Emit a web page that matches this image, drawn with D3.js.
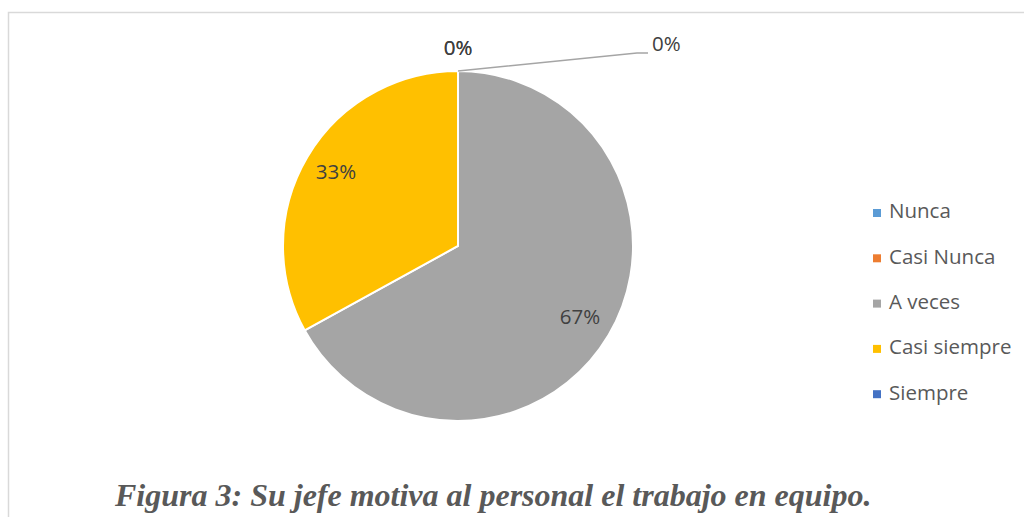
<!DOCTYPE html>
<html lang="es">
<head>
<meta charset="UTF-8">
<title>Figura 3</title>
<script src="https://d3js.org/d3.v7.min.js"></script>
<style>
    body{ margin:0; background:#fff; }
    #canvas{ display:block; }
    .lbl{ font-family:"Open Sans", sans-serif; font-size:20.5px; fill:#404040; }
    .legendText{ font-family:"Open Sans", sans-serif; font-size:20.5px; fill:#595959; }
    #caption{ font-family:"Liberation Serif", "Times New Roman", serif; font-weight:bold; font-style:italic; font-size:32px; fill:#595959; }
</style>
</head>
<body>
<svg id="canvas" width="1024" height="517"></svg>
<script>
    // data
    let categories = ["Nunca", "Casi Nunca", "A veces", "Casi siempre", "Siempre"];
    let values = [0, 0, 67, 33, 0];
    let colors = ["#5b9bd5", "#ed7d31", "#a5a5a5", "#ffc000", "#4472c4"];
    let captionText = "Figura 3: Su jefe motiva al personal el trabajo en equipo.";

    let svg = d3.select('#canvas');

    // chart frame
    svg.append('path')
        .attr('d', 'M8.5,517 L8.5,12.5 L1024,12.5')
        .attr('fill', 'none')
        .attr('stroke', '#d9d9d9')
        .attr('stroke-width', 1.5);

    let cx = 458, cy = 246, R = 175;
    let pie = d3.pie().sort(null).value(d => d);
    let arcs = pie(values);
    let arc = d3.arc().innerRadius(0).outerRadius(R);
    let labelArc = d3.arc().innerRadius(R * 0.81).outerRadius(R * 0.81);
    let outerArc = d3.arc().innerRadius(R + 21).outerRadius(R + 21);

    let g = svg.append('g').attr('transform', `translate(${cx},${cy})`);
    g.selectAll('path.slice')
        .data(arcs)
        .enter()
        .append('path')
        .attr('class', 'slice')
        .attr('d', arc)
        .attr('fill', (d, i) => colors[i])
        .attr('stroke', '#fff')
        .attr('stroke-width', 2);

    // labels
    arcs.forEach(function (d, i) {
        let txt = Math.round(d.value) + '%';
        if (d.value > 0) {
            let p = labelArc.centroid(d);
            g.append('text').attr('class', 'lbl')
                .attr('x', p[0]).attr('y', p[1])
                .attr('text-anchor', 'middle').attr('dominant-baseline', 'middle')
                .text(txt);
        } else if (i < arcs.length - 1) {
            let p = outerArc.centroid(d);
            g.append('text').attr('class', 'lbl')
                .attr('x', p[0]).attr('y', p[1])
                .attr('text-anchor', 'middle').attr('dominant-baseline', 'middle')
                .text(txt);
        } else {
            // last zero slice pulled out with a leader line
            let a = d.startAngle;
            let start = [Math.sin(a) * R, -Math.cos(a) * R];
            let bend = [start[0] + 179, start[1] - 18];
            let end = [bend[0] + 11, bend[1]];
            g.append('polyline')
                .attr('points', [start, bend, end].map(p => p.join(',')).join(' '))
                .attr('fill', 'none')
                .attr('stroke', '#a5a5a5')
                .attr('stroke-width', 1.3);
            g.append('text').attr('class', 'lbl')
                .attr('x', end[0] + 4).attr('y', end[1] - 7)
                .attr('dominant-baseline', 'middle')
                .text(txt);
        }
    });

    // legend
    let legend = svg.append('g').attr('transform', 'translate(873,213)');
    let rows = legend.selectAll('g')
        .data(categories)
        .enter()
        .append('g')
        .attr('transform', (d, i) => `translate(0,${i * 45.3})`);
    rows.append('rect')
        .attr('x', 0).attr('y', -4)
        .attr('width', 8).attr('height', 8)
        .attr('fill', (d, i) => colors[i]);
    rows.append('text')
        .attr('class', 'legendText')
        .attr('x', 16).attr('y', 0)
        .attr('dominant-baseline', 'middle')
        .text(d => d);

    // caption
    svg.append('text')
        .attr('id', 'caption')
        .attr('x', 115).attr('y', 506)
        .text(captionText);
</script>
</body>
</html>
